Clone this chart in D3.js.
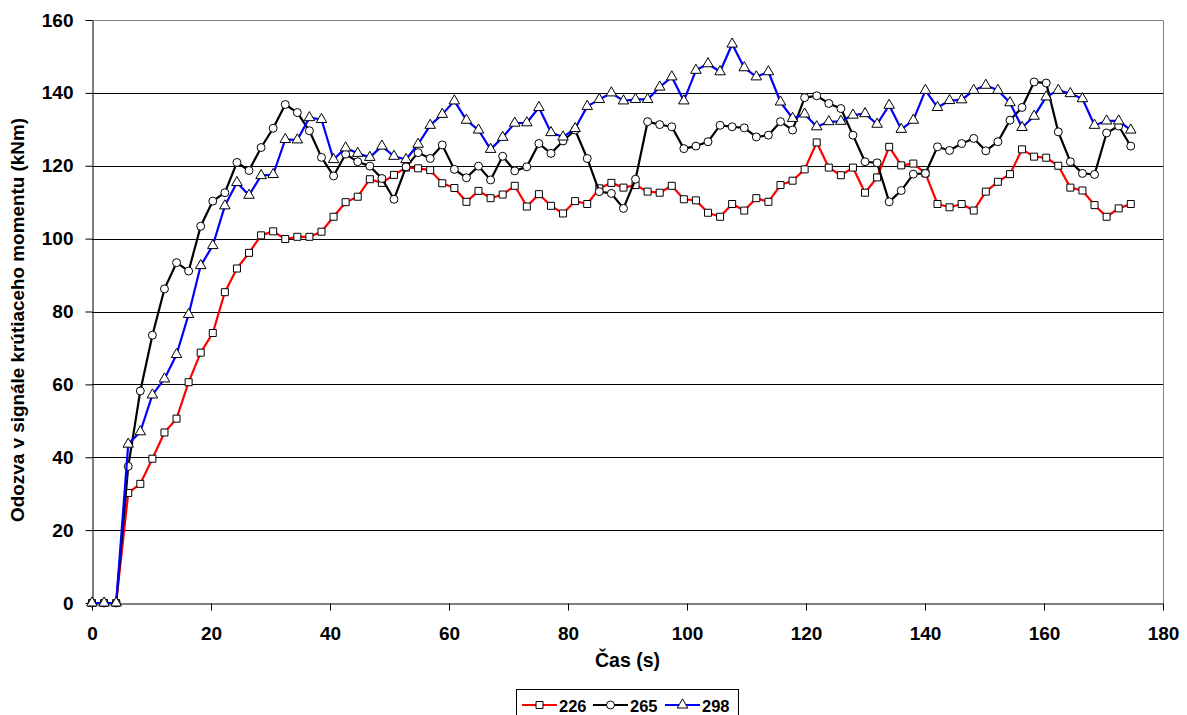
<!DOCTYPE html>
<html>
<head>
<meta charset="utf-8">
<script src="https://cdn.jsdelivr.net/npm/d3@7"></script>
<style>
  html, body { margin: 0; padding: 0; background: #fff; }
  svg text { font-family: "Liberation Sans", Arial, sans-serif; fill: #000; font-weight: bold; }
</style>
</head>
<body>
<svg id="chart" width="1187" height="715"></svg>
<script>
// Torque signal response of three runs, sampled every ~2.03 s
const timeStep = 2.03;

const series226 = [
  0, 0, 0, 30.2, 32.7, 39.6, 46.8, 50.6, 60.6, 68.7,
  74.1, 85.3, 91.8, 96.1, 100.9, 102.0, 99.9, 100.5, 100.5, 101.9,
  106.0, 110.0, 111.5, 116.3, 115.3, 117.5, 119.5, 119.3, 118.8, 115.2,
  113.9, 110.1, 113.1, 111.1, 112.1, 114.5, 108.8, 112.2, 109.0, 106.9,
  110.3, 109.5, 113.8, 115.3, 114.0, 114.7, 112.9, 112.6, 114.5, 110.8,
  110.5, 107.1, 106.0, 109.5, 107.7, 111.1, 110.1, 114.7, 115.9, 119.0,
  126.4, 119.5, 117.4, 119.5, 112.6, 116.8, 125.2, 120.1, 120.6, 117.9,
  109.5, 108.6, 109.5, 107.7, 112.9, 115.6, 117.7, 124.5, 122.5, 122.2,
  120.0, 114.0, 113.2, 109.2, 106.0, 108.3, 109.5
];

const series265 = [
  0, 0, 0, 37.5, 58.2, 73.5, 86.2, 93.4, 91.1, 103.4,
  110.3, 112.6, 120.9, 118.7, 125.0, 130.3, 136.8, 134.6, 129.6, 122.3,
  117.2, 123.2, 121.1, 119.9, 116.5, 110.8, 119.7, 123.6, 122.0, 125.7,
  119.0, 116.7, 119.9, 116.1, 122.6, 118.6, 119.7, 126.1, 123.4, 126.8,
  129.8, 122.0, 112.9, 112.4, 108.3, 116.3, 132.1, 131.3, 130.7, 124.7,
  125.4, 126.6, 131.1, 130.7, 130.4, 127.9, 128.4, 132.1, 129.8, 138.7,
  139.2, 137.1, 135.7, 128.4, 121.1, 120.8, 110.1, 113.2, 117.7, 117.9,
  125.2, 124.2, 126.1, 127.5, 124.1, 126.6, 132.5, 136.0, 143.0, 142.7,
  129.3, 121.1, 117.9, 117.6, 129.0, 130.9, 125.4
];

const series298 = [
  0, 0, 0, 43.6, 47.0, 57.1, 61.5, 68.2, 79.2, 92.6,
  98.1, 109.0, 115.4, 111.9, 117.3, 117.6, 127.2, 127.1, 133.2, 132.7,
  121.7, 124.9, 123.4, 122.3, 125.4, 122.6, 121.7, 125.9, 131.1, 134.1,
  137.8, 132.5, 129.8, 124.5, 127.8, 131.7, 131.8, 136.0, 129.1, 127.9,
  130.2, 136.3, 138.2, 140.0, 137.8, 138.2, 138.2, 141.6, 144.4, 137.8,
  146.2, 148.0, 145.8, 153.4, 146.9, 144.4, 145.8, 137.5, 133.0, 134.2,
  130.7, 132.1, 132.2, 133.9, 134.3, 131.4, 136.6, 130.0, 132.5, 140.7,
  136.0, 137.9, 138.1, 140.7, 142.1, 140.7, 137.3, 130.5, 133.6, 138.9,
  140.7, 139.8, 138.4, 131.1, 132.3, 132.3, 129.8
];

const seriesNames = ["226", "265", "298"];
const xTicks = [0, 20, 40, 60, 80, 100, 120, 140, 160, 180];
const yTicks = [0, 20, 40, 60, 80, 100, 120, 140, 160];

const xTitle = "Čas (s)";
const yTitle = "Odozva v signále krútiaceho momentu (kNm)";

const seriesList = [
  { name: seriesNames[0], values: series226, color: "#ff0000", marker: "square" },
  { name: seriesNames[1], values: series265, color: "#000000", marker: "circle" },
  { name: seriesNames[2], values: series298, color: "#0000ff", marker: "triangle" }
];

const svg = d3.select("#chart");
const plot = { left: 92, right: 1163, top: 20, bottom: 603 };

const x = d3.scaleLinear().domain([0, 180]).range([plot.left, plot.right]);
const y = d3.scaleLinear().domain([0, 160]).range([plot.bottom, plot.top]);

svg.append("rect").attr("width", 1187).attr("height", 715).attr("fill", "#fff");

// horizontal gridlines
svg.append("g")
  .selectAll("line")
  .data(yTicks.filter(v => v > 0 && v < 160))
  .join("line")
  .attr("x1", plot.left).attr("x2", plot.right)
  .attr("y1", d => Math.round(y(d)) + 0.5).attr("y2", d => Math.round(y(d)) + 0.5)
  .attr("stroke", "#000").attr("stroke-width", 1);

// plot frame (top and right)
svg.append("path")
  .attr("d", `M${plot.left},${plot.top + 0.5}H${plot.right + 0.5}V${plot.bottom}`)
  .attr("fill", "none").attr("stroke", "#808080").attr("stroke-width", 1);

// axes
const yAxis = d3.axisLeft(y).tickValues(yTicks).tickSize(7).tickSizeOuter(0).tickPadding(12);
const xAxis = d3.axisBottom(x).tickValues(xTicks).tickSize(7).tickSizeOuter(0).tickPadding(16);

const gy = svg.append("g").attr("transform", `translate(${plot.left + 0.5},0)`).call(yAxis);
const gx = svg.append("g").attr("transform", `translate(0,${plot.bottom + 0.5})`).call(xAxis);

[gx, gy].forEach(g => {
  g.select(".domain").attr("stroke", "#000");
  g.selectAll(".tick line").attr("stroke", "#000");
  g.selectAll(".tick text")
    .attr("font-family", "Liberation Sans, Arial, sans-serif")
    .attr("font-weight", "bold")
    .attr("font-size", 19)
    .attr("fill", "#000");
});

// axis titles
svg.append("text")
  .attr("x", (plot.left + plot.right) / 2)
  .attr("y", 667)
  .attr("text-anchor", "middle")
  .attr("font-size", 19.5)
  .text(xTitle);

svg.append("text")
  .attr("transform", "translate(24,320) rotate(-90)")
  .attr("text-anchor", "middle")
  .attr("font-size", 18.9)
  .text(yTitle);

// marker shapes
const symbolFor = {
  square: d3.symbol().type(d3.symbolSquare).size(49),
  circle: d3.symbol().type(d3.symbolCircle).size(50),
  triangle: d3.symbol().type(d3.symbolTriangle).size(48)
};

const line = d3.line()
  .x((d, i) => x(i * timeStep))
  .y(d => y(d));

seriesList.forEach(s => {
  const g = svg.append("g");
  g.append("path")
    .datum(s.values)
    .attr("d", line)
    .attr("fill", "none")
    .attr("stroke", s.color)
    .attr("stroke-width", 2.2)
    .attr("stroke-linejoin", "round");
  g.selectAll("path.marker")
    .data(s.values)
    .join("path")
    .attr("class", "marker")
    .attr("transform", (d, i) => `translate(${x(i * timeStep)},${y(d)})`)
    .attr("d", symbolFor[s.marker]())
    .attr("fill", "#fff")
    .attr("stroke", "#000")
    .attr("stroke-width", 1);
});

// legend
const legend = svg.append("g");
legend.append("rect")
  .attr("x", 516.5).attr("y", 689.5)
  .attr("width", 222).attr("height", 40)
  .attr("fill", "#fff").attr("stroke", "#000").attr("stroke-width", 1);

const legendX = [522, 593, 665];
seriesList.forEach((s, k) => {
  const lx = legendX[k];
  const ly = 705;
  legend.append("line")
    .attr("x1", lx).attr("x2", lx + 35)
    .attr("y1", ly).attr("y2", ly)
    .attr("stroke", s.color).attr("stroke-width", 2.2);
  legend.append("path")
    .attr("transform", `translate(${lx + 17.5},${ly})`)
    .attr("d", symbolFor[s.marker]())
    .attr("fill", "#fff").attr("stroke", "#000").attr("stroke-width", 1);
  legend.append("text")
    .attr("x", lx + 37)
    .attr("y", 711.5)
    .attr("font-size", 16.5)
    .text(s.name);
});
</script>
</body>
</html>
